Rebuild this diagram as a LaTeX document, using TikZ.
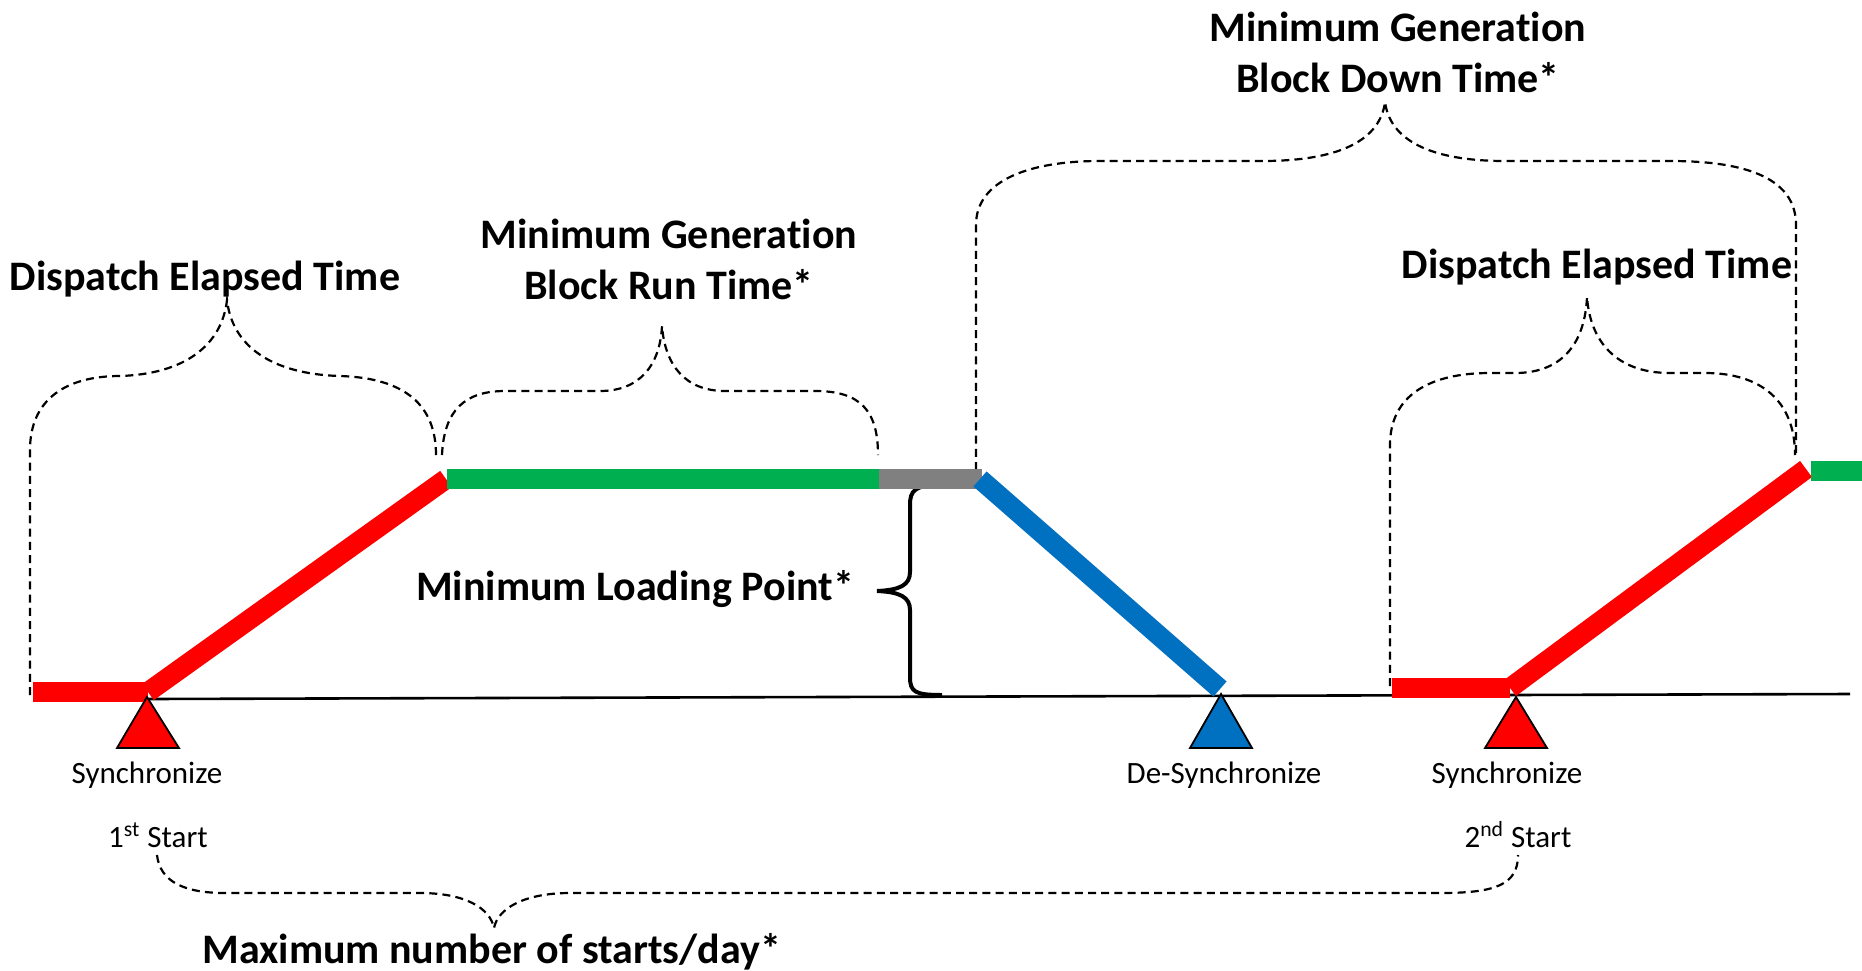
\documentclass[tikz,border=0pt]{standalone}
\usepackage{fontspec}
\setmainfont{Carlito}[Ligatures=NoCommon]
\definecolor{barred}{HTML}{FF0000}
\definecolor{bargreen}{HTML}{00B050}
\definecolor{barblue}{HTML}{0070C0}
\definecolor{bargray}{HTML}{808080}
\begin{document}
\begin{tikzpicture}[x=0.5pt,y=-0.5pt,
  bracedash/.style={draw=black, line width=1.1pt, dash pattern=on 4pt off 2.6pt},
  bar/.style={line width=10pt, line cap=butt},
  trimark/.style={draw=black, line width=0.9pt, line join=miter},
  boldlbl/.style={font=\fontsize{21}{25.5}\selectfont\bfseries, inner sep=0pt, align=center},
  smalllbl/.style={font=\fontsize{15.5}{18}\selectfont, inner sep=0pt},
]
\useasboundingbox (0,0) rectangle (1862,970);
\fill[white] (0,0) rectangle (1862,970);

% coordinates of the profile
\coordinate (r1a) at (33,692);
\coordinate (r1b) at (148,692);
\coordinate (r1c) at (446,479);
\coordinate (g1a) at (447,479);
\coordinate (g1b) at (879,479);
\coordinate (k1b) at (982,479);
\coordinate (b1a) at (980,479);
\coordinate (b1b) at (1220,689);
\coordinate (r2a) at (1392,688);
\coordinate (r2b) at (1510,688);
\coordinate (r2c) at (1806,469);
\coordinate (g2a) at (1811,471);
\coordinate (g2b) at (1862,471);
\coordinate (base0) at (147,699);
\coordinate (base1) at (1850,694);

% dashed braces
\draw[bracedash] (30,695) -- (30,450) .. controls (30,400) and (65,376) .. (120,376)
  .. controls (185,374) and (222,345) .. (227,300)
  .. controls (232,345) and (270,374) .. (340,376)
  .. controls (405,378) and (436,405) .. (436,455);
\draw[bracedash] (442,455) .. controls (444,410) and (465,391) .. (505,391) -- (600,391)
  .. controls (640,391) and (660,365) .. (662,326)
  .. controls (665,365) and (685,391) .. (725,391) -- (815,391)
  .. controls (860,391) and (878,410) .. (878,455);
\draw[bracedash] (976,470) -- (976,225) .. controls (976,180) and (1030,161) .. (1100,161) -- (1262,161)
  .. controls (1340,161) and (1380,140) .. (1385,102)
  .. controls (1390,140) and (1430,161) .. (1505,161) -- (1670,161)
  .. controls (1750,161) and (1796,180) .. (1796,225) -- (1796,455);
\draw[bracedash] (1390,686) -- (1390,445) .. controls (1390,395) and (1430,373) .. (1490,373) -- (1515,373)
  .. controls (1565,373) and (1585,340) .. (1587,297)
  .. controls (1590,340) and (1615,373) .. (1670,373) -- (1705,373)
  .. controls (1760,373) and (1795,400) .. (1795,455);
\draw[bracedash] (157,855) .. controls (160,882) and (185,893) .. (225,893) -- (420,893)
  .. controls (465,893) and (490,908) .. (494,928)
  .. controls (498,908) and (525,893) .. (570,893) -- (1440,893)
  .. controls (1495,893) and (1518,885) .. (1518,855);

% solid brace (minimum loading point)
\draw[line width=2pt] (942,485) .. controls (915,485) and (910,490) .. (910,505) -- (910,572)
  .. controls (910,585) and (900,590) .. (877,591)
  .. controls (900,592) and (910,597) .. (910,610) -- (910,677)
  .. controls (910,692) and (915,695) .. (942,695);

% base line
\draw[line width=1.3pt] (base0) -- (base1);

% profile bars
\draw[bar, barred] (r1a) -- (r1b);
\draw[bar, barred] (r1b) -- (r1c);
\draw[bar, bargreen] (g1a) -- (g1b);
\draw[bar, bargray] (g1b) -- (k1b);
\draw[bar, barblue] (b1a) -- (b1b);
\draw[bar, barred] (r2a) -- (r2b);
\draw[bar, barred] (r2b) -- (r2c);
\draw[bar, bargreen] (g2a) -- (g2b);

% markers
\draw[trimark, fill=barred] (147,697) -- (179,748) -- (117,748) -- cycle;
\draw[trimark, fill=barblue] (1221,694) -- (1252,748) -- (1190,748) -- cycle;
\draw[trimark, fill=barred] (1516,697) -- (1547,748) -- (1485,748) -- cycle;

% labels
\node[boldlbl, anchor=base] (det1) at (205,290) {Dispatch Elapsed Time};
\node[boldlbl, anchor=base] (det2) at (1597,278) {Dispatch Elapsed Time};
\node[boldlbl, anchor=base] (mgr) at (669,299) {Minimum Generation\\Block Run Time*};
\node[boldlbl, anchor=base] (mgd) at (1398,92) {Minimum Generation\\Block Down Time*};
\node[boldlbl, anchor=base] (mlp) at (635,600) {Minimum Loading Point*};
\node[boldlbl, anchor=base west] (mns) at (202,963) {Maximum number of starts/day*};
\node[smalllbl, anchor=base] (s1) at (147,783) {Synchronize};
\node[smalllbl, anchor=base] (ds) at (1224,783) {De-Synchronize};
\node[smalllbl, anchor=base] (s2) at (1507,783) {Synchronize};
\node[smalllbl, anchor=base] (st1) at (158,847) {1\textsuperscript{st} Start};
\node[smalllbl, anchor=base] (st2) at (1518,847) {2\textsuperscript{nd} Start};
\end{tikzpicture}
\end{document}
